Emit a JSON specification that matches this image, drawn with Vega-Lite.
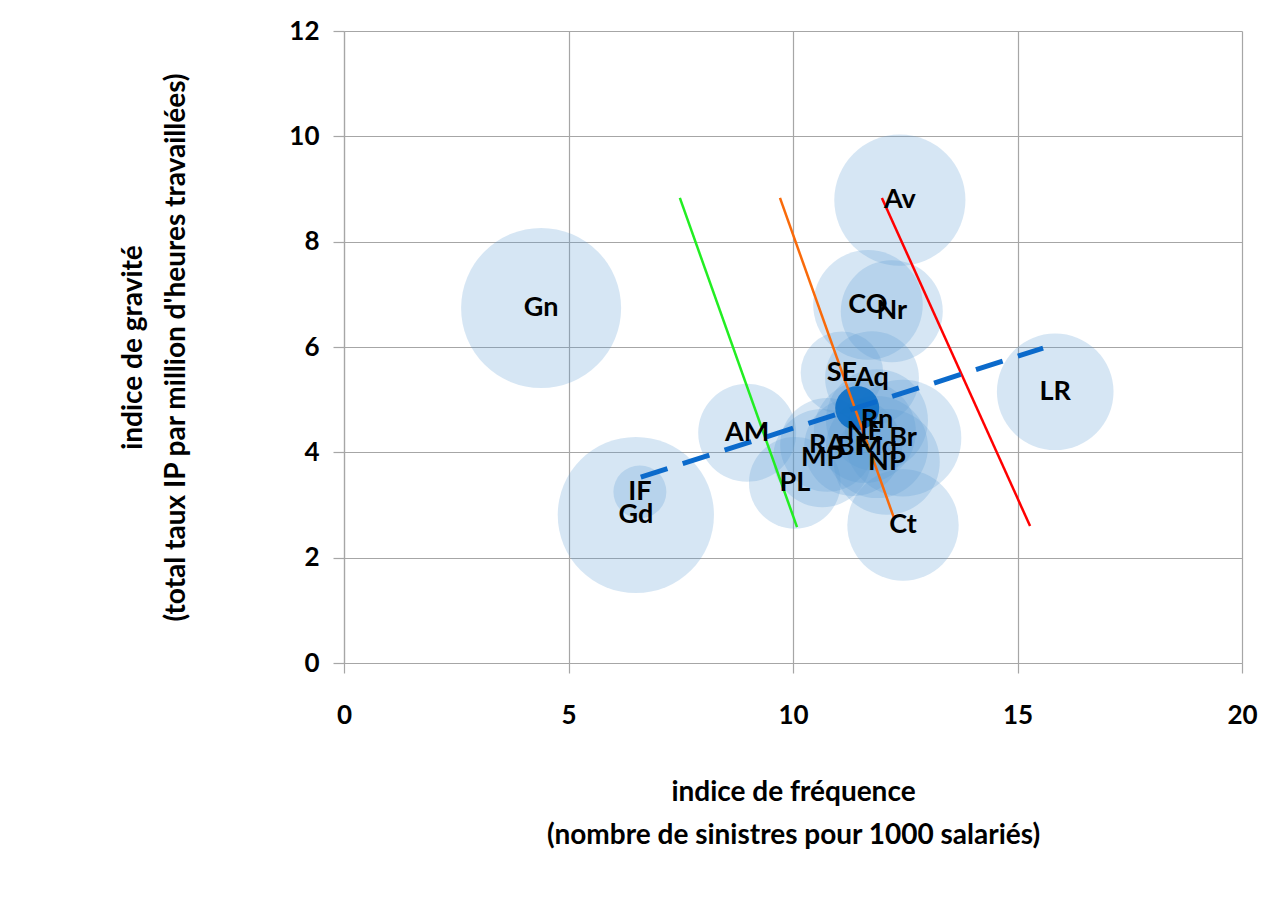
{
  "$schema": "https://vega.github.io/schema/vega-lite/v6.json",
  "width": 898,
  "height": 632,
  "autosize": {"type": "none"},
  "padding": {"left": 344, "top": 31, "right": 23, "bottom": 255},
  "background": "white",
  "config": {
    "view": {"stroke": null},
    "font": "Lato",
    "axis": {
      "grid": true,
      "gridColor": "#A6A6A6",
      "gridWidth": 1.2,
      "domainColor": "#A6A6A6",
      "domainWidth": 1.2,
      "tickColor": "#A6A6A6",
      "tickWidth": 1.2,
      "labelFlush": false,
      "labelFont": "Lato",
      "labelFontSize": 26,
      "labelFontWeight": "bold",
      "labelColor": "#000000",
      "titleFont": "Lato",
      "titleFontSize": 28,
      "titleFontWeight": "bold",
      "titleColor": "#000000",
      "titleLineHeight": 43
    }
  },
  "datasets": {
    "bulles": [
      {"region": "Gn", "freq": 4.39, "grav": 6.74, "taille": 64},
      {"region": "Gd", "freq": 6.5, "grav": 2.81, "taille": 61},
      {"region": "IF", "freq": 6.59, "grav": 3.25, "taille": 7},
      {"region": "AM", "freq": 8.98, "grav": 4.37, "taille": 24},
      {"region": "PL", "freq": 10.04, "grav": 3.42, "taille": 21},
      {"region": "MP", "freq": 10.65, "grav": 3.89, "taille": 24},
      {"region": "RA", "freq": 10.76, "grav": 4.14, "taille": 22},
      {"region": "BF", "freq": 11.34, "grav": 4.1, "taille": 24},
      {"region": "SE", "freq": 11.09, "grav": 5.51, "taille": 17},
      {"region": "Aq", "freq": 11.76, "grav": 5.41, "taille": 22},
      {"region": "CO", "freq": 11.67, "grav": 6.8, "taille": 30},
      {"region": "Nr", "freq": 12.2, "grav": 6.68, "taille": 26},
      {"region": "Av", "freq": 12.38, "grav": 8.79, "taille": 43},
      {"region": "Rn", "freq": 11.87, "grav": 4.61, "taille": 26},
      {"region": "NE", "freq": 11.6, "grav": 4.39, "taille": 26},
      {"region": "Mq", "freq": 11.87, "grav": 4.1, "taille": 26},
      {"region": "Br", "freq": 12.45, "grav": 4.27, "taille": 34},
      {"region": "NP", "freq": 12.09, "grav": 3.82, "taille": 28},
      {"region": "Ct", "freq": 12.45, "grav": 2.62, "taille": 31},
      {"region": "LR", "freq": 15.84, "grav": 5.15, "taille": 34}
    ],
    "moyenne": [
      {"freq": 11.43, "grav": 4.84}
    ],
    "vert": [
      {"freq": 7.48, "grav": 8.83},
      {"freq": 10.09, "grav": 2.58}
    ],
    "orange": [
      {"freq": 9.71, "grav": 8.83},
      {"freq": 12.25, "grav": 2.75}
    ],
    "rouge": [
      {"freq": 11.98, "grav": 8.83},
      {"freq": 15.28, "grav": 2.6}
    ],
    "tendance": [
      {"freq": 6.61, "grav": 3.53},
      {"freq": 15.57, "grav": 5.98}
    ]
  },
  "layer": [
    {
      "data": {"name": "bulles"},
      "mark": {"type": "circle", "fill": "#5B9BD5", "fillOpacity": 0.25, "opacity": 1, "strokeWidth": 0},
      "encoding": {
        "x": {
          "field": "freq", "type": "quantitative",
          "scale": {"domain": [0, 20], "nice": false, "zero": true},
          "axis": {
            "values": [0, 5, 10, 15, 20],
            "tickSize": 10,
            "labelPadding": 29,
            "title": ["indice de fréquence", "(nombre de sinistres pour 1000 salariés)"],
            "titlePadding": 50
          }
        },
        "y": {
          "field": "grav", "type": "quantitative",
          "scale": {"domain": [0, 12], "nice": false, "zero": true},
          "axis": {
            "values": [0, 2, 4, 6, 8, 10, 12],
            "tickSize": 11,
            "labelPadding": 14,
            "title": ["indice de gravité", "(total taux IP par million d'heures travaillées)"],
            "titlePadding": 98
          }
        },
        "size": {
          "field": "taille", "type": "quantitative",
          "scale": {"domain": [0, 64], "range": [0, 25600], "zero": true},
          "legend": null
        }
      }
    },
    {
      "data": {"name": "moyenne"},
      "mark": {"type": "circle", "fill": "#0B6EC5", "opacity": 0.9, "size": 1936},
      "encoding": {
        "x": {"field": "freq", "type": "quantitative"},
        "y": {"field": "grav", "type": "quantitative"}
      }
    },
    {
      "data": {"name": "vert"},
      "mark": {"type": "line", "color": "#22EE22", "strokeWidth": 2.5},
      "encoding": {
        "x": {"field": "freq", "type": "quantitative"},
        "y": {"field": "grav", "type": "quantitative"}
      }
    },
    {
      "data": {"name": "orange"},
      "mark": {"type": "line", "color": "#F96A0A", "strokeWidth": 2.5},
      "encoding": {
        "x": {"field": "freq", "type": "quantitative"},
        "y": {"field": "grav", "type": "quantitative"}
      }
    },
    {
      "data": {"name": "rouge"},
      "mark": {"type": "line", "color": "#FF0000", "strokeWidth": 2.5},
      "encoding": {
        "x": {"field": "freq", "type": "quantitative"},
        "y": {"field": "grav", "type": "quantitative"}
      }
    },
    {
      "data": {"name": "tendance"},
      "mark": {"type": "line", "color": "#0B6ACB", "strokeWidth": 5, "strokeDash": [28, 16]},
      "encoding": {
        "x": {"field": "freq", "type": "quantitative"},
        "y": {"field": "grav", "type": "quantitative"}
      }
    },
    {
      "data": {"name": "bulles"},
      "mark": {"type": "text", "font": "Lato", "fontSize": 27, "fontWeight": "bold", "color": "#000000", "align": "center", "baseline": "middle"},
      "encoding": {
        "x": {"field": "freq", "type": "quantitative"},
        "y": {"field": "grav", "type": "quantitative"},
        "text": {"field": "region"}
      }
    }
  ]
}
